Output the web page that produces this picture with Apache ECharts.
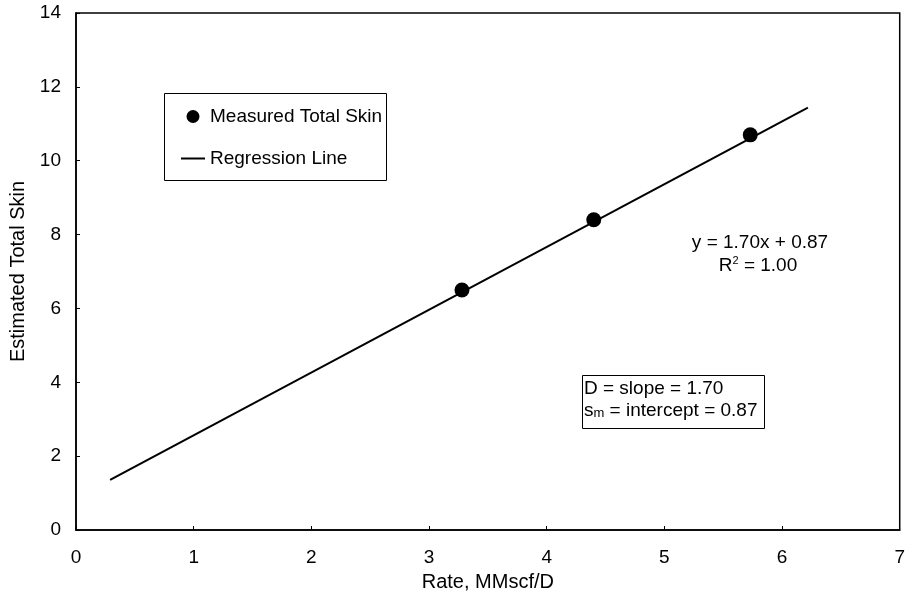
<!DOCTYPE html>
<html>
<head>
<meta charset="utf-8">
<script src="https://cdn.jsdelivr.net/npm/echarts@6/dist/echarts.min.js"></script>
<style>
  html, body { margin: 0; padding: 0; background: #fff; }
  #chart { width: 908px; height: 602px; }
</style>
</head>
<body>
<div id="chart"></div>
<script>
// Measured total skin versus gas rate
var rates = [3.28, 4.40, 5.73];
var skins = [6.5, 8.4, 10.7];

// Regression line y = 1.70x + 0.87, drawn between its end points
var lineRates = [0.29, 6.22];
var lineSkins = [1.36, 11.44];

var xTicks = [0, 1, 2, 3, 4, 5, 6, 7];
var yTicks = [0, 2, 4, 6, 8, 10, 12, 14];

var FONT = 'Liberation Sans, Arial, sans-serif';
var FS = 19;

var chart = echarts.init(document.getElementById('chart'), null, { renderer: 'canvas' });

chart.setOption({
  backgroundColor: '#fff',
  animation: false,
  grid: {
    left: 76, right: 5, top: 13, bottom: 72,
    show: true, borderColor: '#000', borderWidth: 1.5, backgroundColor: 'transparent'
  },
  xAxis: {
    type: 'value',
    min: xTicks[0], max: xTicks[xTicks.length - 1], interval: 1,
    name: 'Rate, MMscf/D',
    nameLocation: 'middle', nameGap: 42,
    nameTextStyle: { fontFamily: FONT, fontSize: 20, color: '#000' },
    axisLine: { show: true, lineStyle: { color: '#000', width: 1.5 } },
    axisTick: { show: true, inside: true, length: 4, lineStyle: { color: '#000' } },
    axisLabel: { fontFamily: FONT, fontSize: FS, color: '#000', margin: 18 },
    splitLine: { show: false }
  },
  yAxis: {
    type: 'value',
    min: yTicks[0], max: yTicks[yTicks.length - 1], interval: 2,
    name: 'Estimated Total Skin',
    nameLocation: 'middle', nameGap: 48, nameRotate: 90,
    nameTextStyle: { fontFamily: FONT, fontSize: 20, color: '#000' },
    axisLine: { show: true, lineStyle: { color: '#000', width: 1.5 } },
    axisTick: { show: true, inside: true, length: 4, lineStyle: { color: '#000' } },
    axisLabel: { fontFamily: FONT, fontSize: FS, color: '#000', margin: 15 },
    splitLine: { show: false }
  },
  legend: {
    orient: 'vertical',
    left: 181, top: 107,
    padding: 0,
    itemWidth: 24, itemHeight: 13, itemGap: 23,
    textStyle: { fontFamily: FONT, fontSize: FS, color: '#000', padding: [0, 0, 0, 0] },
    data: [
      { name: 'Measured Total Skin', icon: 'circle', itemStyle: { color: '#000', opacity: 1 } },
      { name: 'Regression Line', icon: 'path://M0,0H24V2H0Z', itemStyle: { color: '#000', opacity: 1 } }
    ]
  },
  series: [
    {
      name: 'Regression Line',
      type: 'line',
      data: lineRates.map(function (x, i) { return [x, lineSkins[i]]; }),
      symbol: 'none',
      color: '#000',
      lineStyle: { color: '#000', width: 2 },
      z: 2
    },
    {
      name: 'Measured Total Skin',
      type: 'scatter',
      data: rates.map(function (x, i) { return [x, skins[i]]; }),
      symbol: 'circle',
      symbolSize: 15,
      itemStyle: { color: '#000', opacity: 1 },
      z: 3
    }
  ],
  graphic: [
    {
      type: 'rect', left: 164, top: 93, z: 1,
      shape: { width: 222, height: 87 },
      style: { fill: 'transparent', stroke: '#000', lineWidth: 1 }
    },
    {
      type: 'text', x: 760, y: 243, z: 5,
      style: {
        text: 'y = 1.70x + 0.87', fill: '#000',
        font: FS + 'px ' + FONT, align: 'center', verticalAlign: 'middle'
      }
    },
    {
      type: 'text', x: 758, y: 266, z: 5,
      style: {
        text: '{b|R}{s|2}{b| = 1.00}',
        align: 'center', verticalAlign: 'middle',
        rich: {
          b: { fontFamily: FONT, fontSize: FS, fill: '#000', color: '#000' },
          s: { fontFamily: FONT, fontSize: 11, fill: '#000', color: '#000', padding: [0, 0, 10, 0] }
        }
      }
    },
    {
      type: 'rect', left: 582, top: 375, z: 4,
      shape: { width: 182, height: 53 },
      style: { fill: '#fff', stroke: '#000', lineWidth: 1 }
    },
    {
      type: 'text', x: 584, y: 389, z: 5,
      style: {
        text: 'D = slope = 1.70', fill: '#000',
        font: FS + 'px ' + FONT, align: 'left', verticalAlign: 'middle'
      }
    },
    {
      type: 'text', x: 584, y: 411, z: 5,
      style: {
        text: '{b|s}{s|m}{b| = intercept = 0.87}',
        align: 'left', verticalAlign: 'middle',
        rich: {
          b: { fontFamily: FONT, fontSize: FS, fill: '#000', color: '#000' },
          s: { fontFamily: FONT, fontSize: 13, fill: '#000', color: '#000', padding: [5, 0, 0, 0] }
        }
      }
    }
  ]
});
</script>
</body>
</html>
